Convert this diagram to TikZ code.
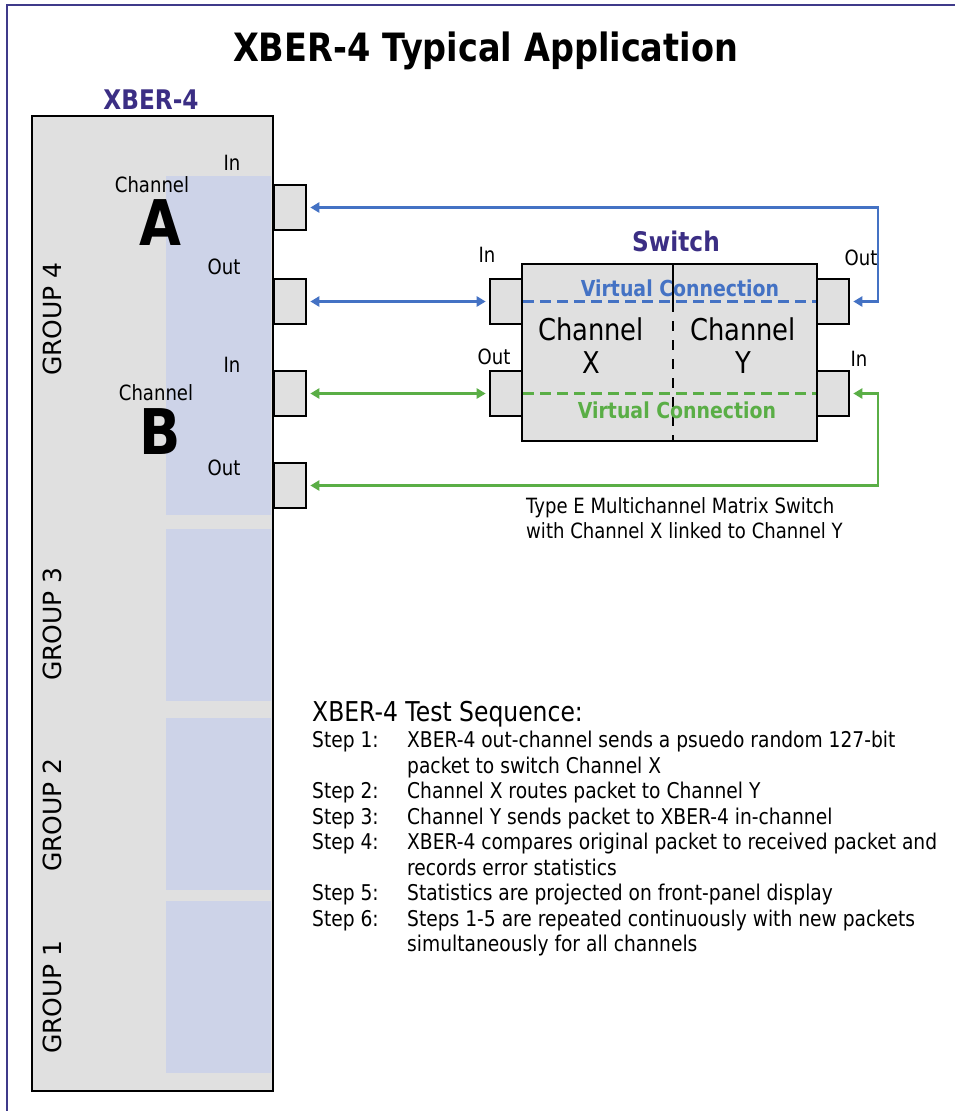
\documentclass[tikz,border=0pt]{standalone}
\usepackage{fontspec}
\setmainfont{DejaVu Sans}[FakeStretch=0.86]
\newfontfamily\groupfont{DejaVu Sans}
\usetikzlibrary{arrows.meta,positioning}

\definecolor{framepurple}{HTML}{3F3A8A}
\definecolor{titlepurple}{HTML}{3B2E84}
\definecolor{boxgray}{HTML}{E0E0E0}
\definecolor{panelblue}{HTML}{CDD3E8}
\definecolor{linkblue}{HTML}{4472C4}
\definecolor{linkgreen}{HTML}{5AAE46}

\begin{document}
\begin{tikzpicture}[
  x=1pt, y=-1pt,
  box/.style={draw, line width=2.6pt, fill=boxgray, inner sep=0},
  port/.style={box, minimum width=32pt, minimum height=45pt},
  panel/.style={fill=panelblue, inner sep=0, minimum width=105pt},
  lbl/.style={font=\fontsize{21}{25}\selectfont, inner sep=0},
  biglbl/.style={font=\fontsize{30}{33}\selectfont, inner sep=0, align=center},
  letter/.style={font=\fontsize{63}{63}\selectfont\bfseries, inner sep=0},
  grplbl/.style={font=\groupfont\fontsize{25}{25}\selectfont, rotate=90, inner sep=0},
  head/.style={font=\fontsize{27}{30}\selectfont\bfseries, text=titlepurple, inner sep=0},
  vlbl/.style={font=\fontsize{22}{24}\selectfont\bfseries, inner sep=0},
  link/.style={line width=2.5pt, {Triangle[length=9pt,width=10pt]}-{Triangle[length=9pt,width=10pt]},
    shorten <=3pt, shorten >=3pt},
  vlink/.style={line width=2.2pt, dash pattern=on 11pt off 6pt}
]
\useasboundingbox (0,0) rectangle (955,1111);
\draw[framepurple, line width=2.8pt] (7,1111) -- (7,5) -- (955,5);

\node[font=\fontsize{39}{41}\selectfont\bfseries, inner sep=0] (title) at (485.5,51) {XBER-4 Typical Application};

% XBER-4 unit
\node[head] (xberlbl) at (151,100) {XBER-4};
\node[box, minimum width=241pt, minimum height=975pt] (xber) at (152.5,603.5) {};
\foreach \g/\yc/\h/\ly in {4/345.5/339/319, 3/615/172/624, 2/804/172/815, 1/987/172/997} {
  \node[panel, minimum height=\h pt] (panel\g) at (218.5,\yc) {};
  \node[grplbl] (grp\g) at (52,\ly) {GROUP \g};
}

\node[port] (aIn) at (290,207.5) {};
\node[port] (aOut) at (290,301.5) {};
\node[port] (bIn) at (290,393.5) {};
\node[port] (bOut) at (290,485.5) {};

\node[lbl] (aInlbl) at (232,163) {In};
\node[lbl] (achlbl) at (152,185) {Channel};
\node[letter] (aletter) at (160,223) {A};
\node[lbl] (aOutlbl) at (224,267) {Out};
\node[lbl] (bInlbl) at (232,365) {In};
\node[lbl] (bchlbl) at (156,393) {Channel};
\node[letter] (bletter) at (160,432) {B};
\node[lbl] (bOutlbl) at (224,468) {Out};

% switch
\node[box, minimum width=295pt, minimum height=177pt] (switch) at (669.5,352.5) {};
\node[head] (switchlbl) at (676,241) {Switch};
\draw[line width=2pt] (673,264) -- (673,302);
\draw[line width=2pt, dash pattern=on 10pt off 9pt] (673,302) -- (673,441);
\node[port] (swXin) at (506,301.5) {};
\node[port] (swXout) at (506,393.5) {};
\node[port] (swYout) at (833,301.5) {};
\node[port] (swYin) at (833,393.5) {};

\node[lbl] (swXinlbl) at (487,255) {In};
\node[lbl] (swYoutlbl) at (861,258) {Out};
\node[lbl] (swXoutlbl) at (494,357) {Out};
\node[lbl] (swYinlbl) at (859,359) {In};

\draw[vlink, draw=linkblue] (swXin.east) -- (swYout.west);
\draw[vlink, draw=linkgreen] (swXout.east) -- (swYin.west);
\node[vlbl, text=linkblue] (vclblue) at (680,288) {Virtual Connection};
\node[vlbl, text=linkgreen] (vclgreen) at (677,410) {Virtual Connection};
\node[biglbl] (chX) at (591,346) {Channel\\X};
\node[biglbl] (chY) at (743,346) {Channel\\Y};

\node[lbl, align=left, anchor=west] (caption) at (526,518)
  {Type E Multichannel Matrix Switch\\with Channel X linked to Channel Y};

% connections
\coordinate (blueBend) at (878,301.5);
\coordinate (greenBend) at (878,393.5);
\draw[link, linkblue] (aIn.east) -| (blueBend) -- (swYout.east);
\draw[link, linkblue] (aOut.east) -- (swXin.west);
\draw[link, linkgreen] (bIn.east) -- (swXout.west);
\draw[link, linkgreen] (bOut.east) -| (greenBend) -- (swYin.east);

% test sequence
\node[font=\fontsize{27.3}{30}\selectfont, inner sep=0, anchor=west] (seqtitle) at (312,714) {XBER-4 Test Sequence:};
\node[font=\fontsize{21.7}{25.5}\selectfont, inner sep=0, align=left, anchor=north west] (steps) at (312,731)
  {\makebox[95pt][l]{Step 1:}XBER-4 out-channel sends a psuedo random 127-bit\\
   \makebox[95pt][l]{}packet to switch Channel X\\
   \makebox[95pt][l]{Step 2:}Channel X routes packet to Channel Y\\
   \makebox[95pt][l]{Step 3:}Channel Y sends packet to XBER-4 in-channel\\
   \makebox[95pt][l]{Step 4:}XBER-4 compares original packet to received packet and\\
   \makebox[95pt][l]{}records error statistics\\
   \makebox[95pt][l]{Step 5:}Statistics are projected on front-panel display\\
   \makebox[95pt][l]{Step 6:}Steps 1-5 are repeated continuously with new packets\\
   \makebox[95pt][l]{}simultaneously for all channels};
\end{tikzpicture}
\end{document}
